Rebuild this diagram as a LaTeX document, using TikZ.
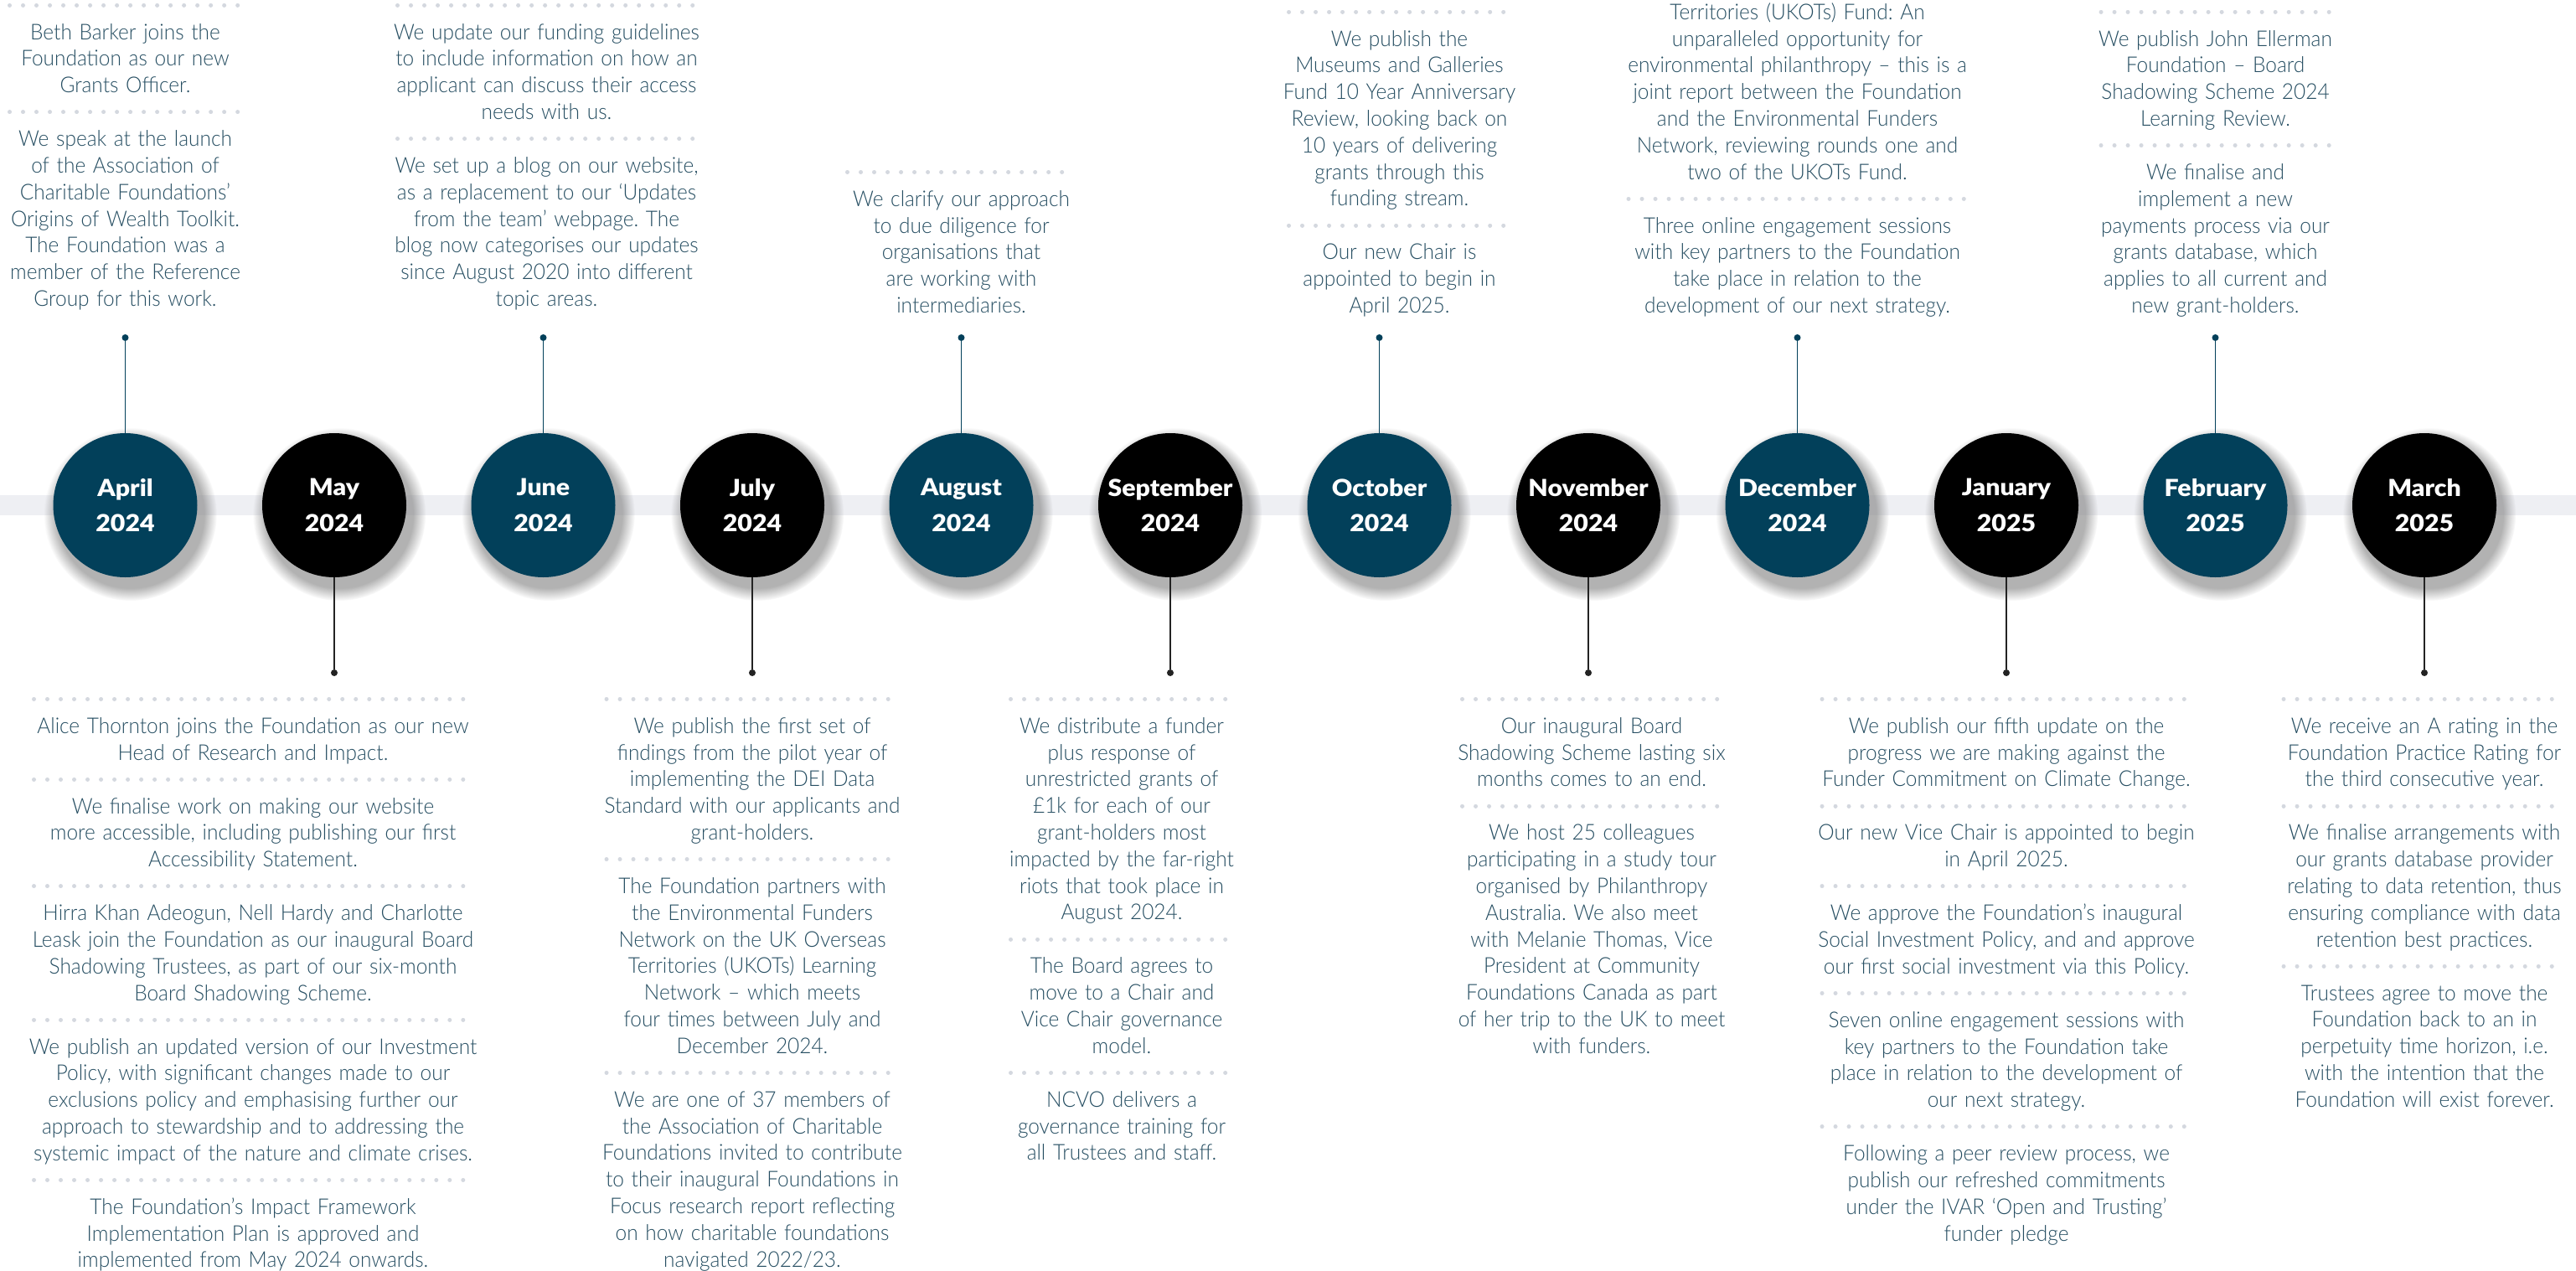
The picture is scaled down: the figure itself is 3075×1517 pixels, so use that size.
\documentclass[tikz,border=0pt]{standalone}
\usepackage{fontspec}
\setmainfont{Lato}[UprightFont=* Light, BoldFont=* Bold, FakeStretch=0.94]
\newfontfamily\monthfont{Lato}[UprightFont=* Black, FakeStretch=1.08]
\frenchspacing
\usetikzlibrary{positioning, shadows}

\definecolor{jefteal}{RGB}{2,64,90}
\definecolor{jeftext}{RGB}{38,78,98}
\definecolor{bandgray}{RGB}{238,239,243}
\definecolor{dotgray}{RGB}{212,216,223}
\definecolor{linkgray}{RGB}{35,35,35}

\tikzset{
	month/.style={circle, minimum size=172pt, inner sep=0pt, align=center, text=white,
		font=\monthfont\fontsize{28}{42.3}\selectfont,
		circular drop shadow={shadow xshift=5pt, shadow yshift=-9pt, shadow scale=1.2, opacity=.6}},
	monthblue/.style={month, fill=jefteal},
	monthblack/.style={month, fill=black},
	entry/.style={text width=600pt, align=center, inner sep=0pt, text=jeftext,
		font=\fontsize{26}{31.8}\selectfont,
		execute at begin node=\strut, execute at end node=\strut},
	topdot/.style={circle, fill=jefteal, inner sep=0pt, minimum size=8pt},
	botdot/.style={circle, fill=linkgray, inner sep=0pt, minimum size=8pt},
	toplink/.style={jefteal, line width=1.6pt},
	botlink/.style={linkgray, line width=1.6pt},
	sepdots/.style={dotgray, line width=5pt, line cap=round, dash pattern=on 0.01pt off 16pt}
}
% dotted rule above an entry: node, half width
\newcommand{\sepline}[2]{\draw[sepdots] ([xshift=-#2pt,yshift=18.5pt]#1.north) -- ([xshift=#2pt,yshift=18.5pt]#1.north);}

\begin{document}
\begin{tikzpicture}[x=1pt, y=-1pt, node distance=31.8pt]
	\useasboundingbox (0,0) rectangle (3075,1517);
	\fill[white] (0,0) rectangle (3075,1517);
	\fill[bandgray] (0,591) rectangle (3075,615);

	% the months
	\node[monthblue] (apr) at (149.5,603) {April\\2024};
	\node[monthblack] (may) at (399,603) {May\\2024};
	\node[monthblue] (jun) at (648.5,603) {June\\2024};
	\node[monthblack] (jul) at (898,603) {July\\2024};
	\node[monthblue] (aug) at (1147.5,603) {August\\2024};
	\node[monthblack] (sep) at (1397,603) {September\\2024};
	\node[monthblue] (oct) at (1646.5,603) {October\\2024};
	\node[monthblack] (nov) at (1896,603) {November\\2024};
	\node[monthblue] (dec) at (2145.5,603) {December\\2024};
	\node[monthblack] (jan) at (2395,603) {January\\2025};
	\node[monthblue] (feb) at (2644.5,603) {February\\2025};
	\node[monthblack] (mar) at (2894,603) {March\\2025};

	% pins
	\node[topdot] (aprdot) at (149.5,403) {};
	\node[topdot] (jundot) at (648.5,403) {};
	\node[topdot] (augdot) at (1147.5,403) {};
	\node[topdot] (octdot) at (1646.5,403) {};
	\node[topdot] (decdot) at (2145.5,403) {};
	\node[topdot] (febdot) at (2644.5,403) {};
	\node[botdot] (maydot) at (399,803) {};
	\node[botdot] (juldot) at (898,803) {};
	\node[botdot] (sepdot) at (1397,803) {};
	\node[botdot] (novdot) at (1896,803) {};
	\node[botdot] (jandot) at (2395,803) {};
	\node[botdot] (mardot) at (2894,803) {};

	\draw[toplink] (aprdot) -- (apr);
	\draw[toplink] (jundot) -- (jun);
	\draw[toplink] (augdot) -- (aug);
	\draw[toplink] (octdot) -- (oct);
	\draw[toplink] (decdot) -- (dec);
	\draw[toplink] (febdot) -- (feb);
	\draw[botlink] (may) -- (maydot);
	\draw[botlink] (jul) -- (juldot);
	\draw[botlink] (sep) -- (sepdot);
	\draw[botlink] (nov) -- (novdot);
	\draw[botlink] (jan) -- (jandot);
	\draw[botlink] (mar) -- (mardot);

	% April
	\node[entry, above=23.5pt of aprdot] (apr2) {We speak at the launch\\of the Association of\\Charitable Foundations’\\Origins of Wealth Toolkit.\\The Foundation was a\\member of the Reference\\Group for this work.};
	\node[entry, above=of apr2] (apr1) {Beth Barker joins the\\Foundation as our new\\Grants Officer.};
	\sepline{apr1}{138} \sepline{apr2}{138}

	% May
	\node[entry, below=45.7pt of maydot, xshift=-97pt] (may1) {Alice Thornton joins the Foundation as our new\\Head of Research and Impact.};
	\node[entry, below=of may1] (may2) {We finalise work on making our website\\more accessible, including publishing our first\\Accessibility Statement.};
	\node[entry, below=of may2] (may3) {Hirra Khan Adeogun, Nell Hardy and Charlotte\\Leask join the Foundation as our inaugural Board\\Shadowing Trustees, as part of our six-month\\Board Shadowing Scheme.};
	\node[entry, below=of may3] (may4) {We publish an updated version of our Investment\\Policy, with significant changes made to our\\exclusions policy and emphasising further our\\approach to stewardship and to addressing the\\systemic impact of the nature and climate crises.};
	\node[entry, below=of may4] (may5) {The Foundation’s Impact Framework\\Implementation Plan is approved and\\implemented from May 2024 onwards.};
	\sepline{may1}{261.5} \sepline{may2}{261.5} \sepline{may3}{261.5} \sepline{may4}{261.5} \sepline{may5}{261.5}

	% June
	\node[entry, above=23.5pt of jundot, xshift=4pt] (jun2) {We set up a blog on our website,\\as a replacement to our ‘Updates\\from the team’ webpage. The\\blog now categorises our updates\\since August 2020 into different\\topic areas.};
	\node[entry, above=of jun2] (jun1) {We update our funding guidelines\\to include information on how an\\applicant can discuss their access\\needs with us.};
	\sepline{jun1}{178} \sepline{jun2}{178}

	% July
	\node[entry, below=45.7pt of juldot] (jul1) {We publish the first set of\\findings from the pilot year of\\implementing the DEI Data\\Standard with our applicants and\\grant-holders.};
	\node[entry, below=of jul1] (jul2) {The Foundation partners with\\the Environmental Funders\\Network on the UK Overseas\\Territories (UKOTs) Learning\\Network – which meets\\four times between July and\\December 2024.};
	\node[entry, below=of jul2] (jul3) {We are one of 37 members of\\the Association of Charitable\\Foundations invited to contribute\\to their inaugural Foundations in\\Focus research report reflecting\\on how charitable foundations\\navigated 2022/23.};
	\sepline{jul1}{174} \sepline{jul2}{174} \sepline{jul3}{174}

	% August
	\node[entry, above=15.5pt of augdot] (aug1) {We clarify our approach\\to due diligence for\\organisations that\\are working with\\intermediaries.};
	\sepline{aug1}{136}

	% September
	\node[entry, below=45.7pt of sepdot, xshift=-58pt] (sep1) {We distribute a funder\\plus response of\\unrestricted grants of\\£1k for each of our\\grant-holders most\\impacted by the far-right\\riots that took place in\\August 2024.};
	\node[entry, below=of sep1] (sep2) {The Board agrees to\\move to a Chair and\\Vice Chair governance\\model.};
	\node[entry, below=of sep2] (sep3) {NCVO delivers a\\governance training for\\all Trustees and staff.};
	\sepline{sep1}{132.5} \sepline{sep2}{132.5} \sepline{sep3}{132.5}

	% October
	\node[entry, above=15.5pt of octdot, xshift=24pt] (oct2) {Our new Chair is\\appointed to begin in\\April 2025.};
	\node[entry, above=of oct2] (oct1) {We publish the\\Museums and Galleries\\Fund 10 Year Anniversary\\Review, looking back on\\10 years of delivering\\grants through this\\funding stream.};
	\sepline{oct1}{132} \sepline{oct2}{132}

	% November
	\node[entry, below=45.7pt of novdot, xshift=4pt] (nov1) {Our inaugural Board\\Shadowing Scheme lasting six\\months comes to an end.};
	\node[entry, below=of nov1] (nov2) {We host 25 colleagues\\participating in a study tour\\organised by Philanthropy\\Australia. We also meet\\with Melanie Thomas, Vice\\President at Community\\Foundations Canada as part\\of her trip to the UK to meet\\with funders.};
	\sepline{nov1}{154.5} \sepline{nov2}{154.5}

	% December
	\node[entry, above=15.5pt of decdot] (dec2) {Three online engagement sessions\\with key partners to the Foundation\\take place in relation to the\\development of our next strategy.};
	\node[entry, above=of dec2] (dec1) {Territories (UKOTs) Fund: An\\unparalleled opportunity for\\environmental philanthropy – this is a\\joint report between the Foundation\\and the Environmental Funders\\Network, reviewing rounds one and\\two of the UKOTs Fund.};
	\sepline{dec2}{201.5}

	% January
	\node[entry, below=45.7pt of jandot] (jan1) {We publish our fifth update on the\\progress we are making against the\\Funder Commitment on Climate Change.};
	\node[entry, below=of jan1] (jan2) {Our new Vice Chair is appointed to begin\\in April 2025.};
	\node[entry, below=of jan2] (jan3) {We approve the Foundation’s inaugural\\Social Investment Policy, and and approve\\our first social investment via this Policy.};
	\node[entry, below=of jan3] (jan4) {Seven online engagement sessions with\\key partners to the Foundation take\\place in relation to the development of\\our next strategy.};
	\node[entry, below=of jan4] (jan5) {Following a peer review process, we\\publish our refreshed commitments\\under the IVAR ‘Open and Trusting’\\funder pledge};
	\sepline{jan1}{220} \sepline{jan2}{220} \sepline{jan3}{220} \sepline{jan4}{220} \sepline{jan5}{220}

	% February
	\node[entry, above=15.5pt of febdot] (feb2) {We finalise and\\implement a new\\payments process via our\\grants database, which\\applies to all current and\\new grant-holders.};
	\node[entry, above=of feb2] (feb1) {We publish John Ellerman\\Foundation – Board\\Shadowing Scheme 2024\\Learning Review.};
	\sepline{feb1}{136.5} \sepline{feb2}{136.5}

	% March
	\node[entry, below=45.7pt of mardot] (mar1) {We receive an A rating in the\\Foundation Practice Rating for\\the third consecutive year.};
	\node[entry, below=of mar1] (mar2) {We finalise arrangements with\\our grants database provider\\relating to data retention, thus\\ensuring compliance with data\\retention best practices.};
	\node[entry, below=of mar2] (mar3) {Trustees agree to move the\\Foundation back to an in\\perpetuity time horizon, i.e.\\with the intention that the\\Foundation will exist forever.};
	\sepline{mar1}{168} \sepline{mar2}{168} \sepline{mar3}{168}
\end{tikzpicture}
\end{document}
